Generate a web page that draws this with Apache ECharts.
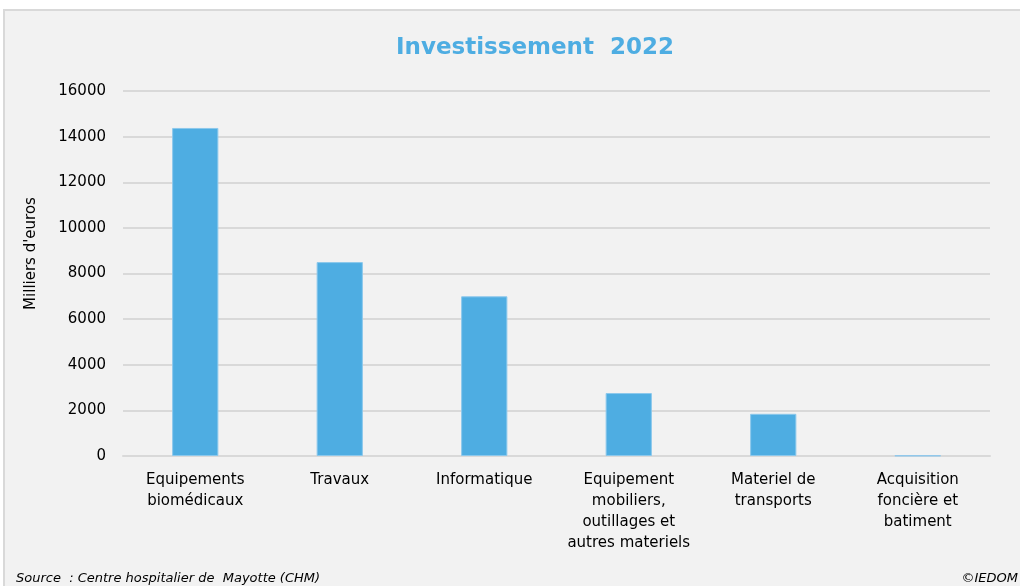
<!DOCTYPE html>
<html>
<head>
<meta charset="utf-8">
<script src="https://cdn.jsdelivr.net/npm/echarts@6/dist/echarts.min.js"></script>
<style>
  body { margin: 0; background: #fff; }
  #container { width: 1020px; height: 586px; }
</style>
</head>
<body>
<div id="container"></div>
<script>
var categories = ["Equipements\nbiomédicaux", "Travaux", "Informatique",
    "Equipement\nmobiliers,\noutillages et\nautres materiels",
    "Materiel de\ntransports", "Acquisition\nfoncière et\nbatiment"];
var valeurs = [14380, 8500, 7000, 2760, 1850, 20];
var yTicks = [0, 2000, 4000, 6000, 8000, 10000, 12000, 14000, 16000];

var myChart = echarts.init(document.getElementById('container'));
var fontTxt = "'DejaVu Sans', Verdana, sans-serif";
var option = {
    backgroundColor: "#ffffff",
    animation: false,
    title: {
        text: "Investissement  2022",
        left: 530,
        textAlign: "center",
        top: 32,
        textStyle: {color: "#4eade2", fontSize: 23, fontWeight: "bold", fontFamily: fontTxt}
    },
    graphic: [{
        type: "rect",
        z: -10,
        shape: {x: 4, y: 10, width: 1020, height: 590},
        style: {fill: "#f2f2f2", stroke: "#d9d9d9", lineWidth: 2}
    }, {
        type: "text",
        left: 16, top: 572,
        style: {text: "Source  : Centre hospitalier de  Mayotte (CHM)", fontSize: 13,
            fontStyle: "italic", fontFamily: fontTxt, fill: "#000"}
    }, {
        type: "text",
        right: 2, top: 572,
        style: {text: "©IEDOM", fontSize: 13, fontStyle: "italic", fontFamily: fontTxt, fill: "#000"}
    }],
    grid: {left: 123, right: 30, top: 91, bottom: 130},
    xAxis: {
        type: "category",
        data: categories,
        axisLine: {lineStyle: {color: "#d9d9d9", width: 2}},
        axisTick: {show: false},
        axisLabel: {color: "#000", fontSize: 15, lineHeight: 21, margin: 14, interval: 0, fontFamily: fontTxt}
    },
    yAxis: {
        type: "value",
        min: 0, max: yTicks[yTicks.length - 1], interval: 2000,
        name: "Milliers d'euros",
        nameLocation: "middle",
        nameGap: 84,
        nameRotate: 90,
        nameTextStyle: {color: "#000", fontSize: 15, fontFamily: fontTxt, padding: [0, 0, 0, 40]},
        axisLine: {show: false},
        axisTick: {show: false},
        axisLabel: {color: "#000", fontSize: 15, margin: 17, fontFamily: fontTxt,
            formatter: function (v) { return String(v); }},
        splitLine: {lineStyle: {color: "#d9d9d9", width: 2}}
    },
    series: [{
        name: "Investissement",
        type: "bar",
        barWidth: "32%",
        itemStyle: {color: "#4eade2", borderColor: "#8cc8ec", borderWidth: 1},
        data: valeurs
    }]
};
myChart.setOption(option);
</script>
</body>
</html>
